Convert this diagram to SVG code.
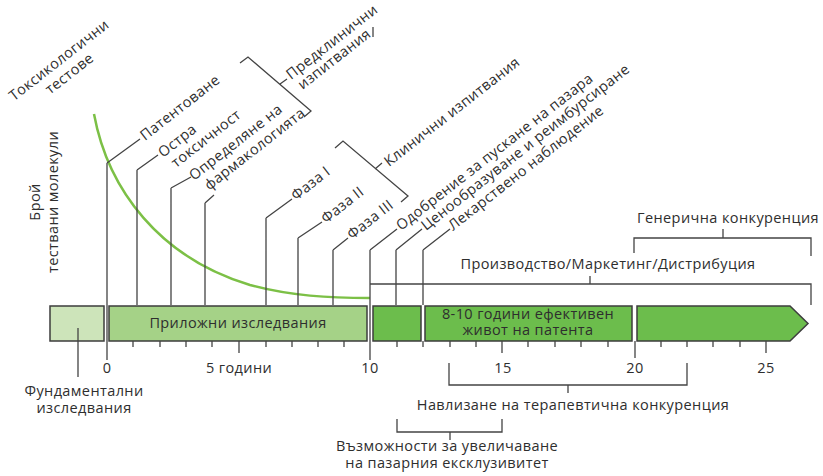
<svg xmlns="http://www.w3.org/2000/svg" width="823" height="476" viewBox="0 0 823 476" lang="bg" xml:lang="bg">
<style>
text{font-family:"Open Sans","Noto Sans","DejaVu Sans",sans-serif;font-size:14.5px;letter-spacing:0.4px;fill:#2e2e2e}
.m{text-anchor:middle}
.ln{fill:none;stroke:#444;stroke-width:1.3}
.box{stroke:#3d3d3d;stroke-width:1.5}
.g{fill:#6cbd4c}
</style>
<rect width="823" height="476" fill="#fff"/>
<g id="curve"><path d="M94,114 C108,190 160,258 250,285 C290,296 330,298 370,298" fill="none" stroke="#7cc046" stroke-width="2.5"/></g>
<g id="bar">
<g id="fundamental"><rect class="box" x="50" y="306" width="54" height="35" fill="#cde4ba"/></g>
<g id="applied"><rect class="box" x="109" y="306" width="258" height="35" fill="#a5d287"/><text class="m" x="238" y="328">Приложни изследвания</text></g>
<g id="seg3"><rect class="box g" x="373" y="306" width="48" height="35"/></g>
<g id="patent"><rect class="box g" x="425" y="306" width="207" height="35"/><text class="m" x="528" y="319">8-10 години ефективен</text><text class="m" x="528" y="335">живот на патента</text></g>
<g id="seg5"><polygon class="box g" points="637,306 790,306 808,323.5 790,341 637,341"/></g>
</g>
<g id="connectors">
<path class="ln" d="M107,163 L140,139 M107,163 V360 M137,170 L158,155 M137,170 V305 M171,188 L191,177 M171,188 V305 M205,203 L214,195 M205,203 V305 M266,218 L292,199 M266,218 V305 M298,238 L322,222 M298,238 V305 M333,250 L348,238 M333,250 V305 M370,250 L397,229 M370,250 V360 M396,250 L422,229 M396,250 V305 M423,250 L450,229 M423,250 V305 M423,341 V347 M78,328 V377 M635,341 V358"/>
<path class="ln" d="M133,341v6M160,341v6M186,341v6M212,341v6M239,341v12M266,341v6M292,341v6M318,341v6M344,341v6M397,341v6M450,341v6M476,341v6M502,341v12M528,341v6M555,341v6M581,341v6M608,341v6M661,341v6M687,341v6M713,341v6M740,341v6M766,341v12"/>
<path class="ln" d="M240,63 L248,57 L311,111 L304,117 M280,84 L287,79"/>
<path class="ln" d="M335,148 L343,141 L408,196 L401,202 M375,169 L382,163"/>
<path class="ln" d="M370,284 H811 V305 M590,276 V284"/>
<path class="ln" d="M634,253 V238 H811 V256 M723,229 V238"/>
<path class="ln" d="M449,363 V385 H687 V363 M568,385 V393"/>
<path class="ln" d="M397,419 V432 H502 V419 M450,432 V440"/>
<path class="ln" d="M373,27 V37" stroke-width="1"/>
</g>
<g id="axis-labels">
<text class="m" x="107" y="373">0</text><text class="m" x="239" y="373">5 години</text><text class="m" x="370" y="373">10</text><text class="m" x="503" y="373">15</text><text class="m" x="635" y="373">20</text><text class="m" x="766" y="373">25</text>
</g>
<g id="fundamental-label"><text class="m" x="84" y="396">Фундаментални</text><text class="m" x="84" y="413">изследвания</text></g>
<g id="therapeutic"><text class="m" x="573" y="410">Навлизане на терапевтична конкуренция</text></g>
<g id="exclusivity"><text class="m" x="447" y="451">Възможности за увеличаване</text><text class="m" x="447" y="468">на пазарния ексклузивитет</text></g>
<g id="generic"><text class="m" x="728" y="223">Генерична конкуренция</text></g>
<g id="production"><text class="m" x="608" y="269">Производство/Маркетинг/Дистрибуция</text></g>
<g id="molecules" transform="translate(40,202) rotate(-90)"><text class="m" x="0" y="0">Брой</text><text class="m" x="0" y="18">тествани молекули</text></g>
<g id="toxic" transform="translate(62,64) rotate(-38)"><text class="m" x="0" y="0">Токсикологични</text><text class="m" x="0" y="17">тестове</text></g>
<g id="patenting" transform="translate(145,141) rotate(-38)"><text x="0" y="0">Патентоване</text></g>
<g id="acute" transform="translate(163,158) rotate(-38)"><text x="0" y="0">Остра</text><text x="4" y="16">токсичност</text></g>
<g id="pharma" transform="translate(194,181) rotate(-38)"><text x="0" y="0">Определяне на</text><text x="6" y="17">фармакологията</text></g>
<g id="preclinical" transform="translate(291,80) rotate(-38)"><text x="0" y="0">Предклинични</text><text x="3" y="15">изпитвания</text></g>
<g id="phase1" transform="translate(296,201) rotate(-38)"><text x="0" y="0">Фаза I</text></g>
<g id="phase2" transform="translate(326,224) rotate(-38)"><text x="0" y="0">Фаза II</text></g>
<g id="phase3" transform="translate(352,240) rotate(-38)"><text x="0" y="0">Фаза III</text></g>
<g id="clinical" transform="translate(389,167) rotate(-38)"><text x="0" y="0">Клинични изпитвания</text></g>
<g id="approval" transform="translate(401,231) rotate(-38)"><text x="0" y="0">Одобрение за пускане на пазара</text></g>
<g id="pricing" transform="translate(426,231) rotate(-38)"><text x="0" y="0">Ценообразуване и реимбурсиране</text></g>
<g id="vigilance" transform="translate(453,231) rotate(-38)"><text x="0" y="0">Лекарствено наблюдение</text></g>
</svg>
